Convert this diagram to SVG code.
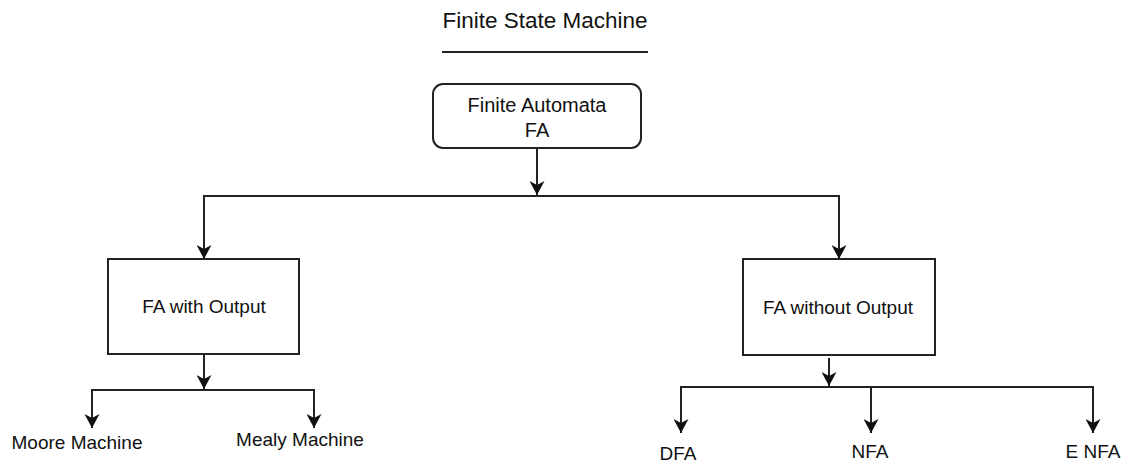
<svg xmlns="http://www.w3.org/2000/svg" width="1123" height="462" viewBox="0 0 1123 462">
<style>
text{font-family:"Liberation Sans",Arial,sans-serif;fill:#111;text-anchor:middle}
.box{fill:#fff;stroke:#222;stroke-width:2}
.edge{fill:none;stroke:#222;stroke-width:2}
</style>
<defs>
<marker id="arr" markerUnits="userSpaceOnUse" markerWidth="14" markerHeight="15" viewBox="0 0 14 15" refX="14" refY="7.5" orient="auto">
<path d="M0,0 L14,7.5 L0,15 L4,7.5 z" fill="#111"/>
</marker>
</defs>
<rect width="1123" height="462" fill="#fff"/>
<g id="title">
<text x="545" y="28" font-size="22.5">Finite State Machine</text>
<line x1="442" y1="52" x2="648" y2="52" stroke="#222" stroke-width="2"/>
</g>
<g id="fa">
<rect class="box" x="433" y="84" width="208" height="64" rx="10"/>
<text x="537" y="112" font-size="20">Finite Automata</text>
<text x="537" y="137" font-size="20">FA</text>
</g>
<g id="fa-with-output">
<rect class="box" x="108" y="259" width="191" height="95"/>
<text x="204" y="313" font-size="19">FA with Output</text>
</g>
<g id="fa-without-output">
<rect class="box" x="743" y="259" width="192" height="96"/>
<text x="838" y="314" font-size="19">FA without Output</text>
</g>
<g id="moore"><text x="77" y="449" font-size="19">Moore Machine</text></g>
<g id="mealy"><text x="300" y="446" font-size="19">Mealy Machine</text></g>
<g id="dfa"><text x="678" y="460" font-size="19">DFA</text></g>
<g id="nfa"><text x="870" y="458" font-size="19">NFA</text></g>
<g id="enfa"><text x="1093" y="458" font-size="19">E NFA</text></g>
<g id="connectors">
<path class="edge" d="M537,148 V195" marker-end="url(#arr)"/>
<path class="edge" d="M537,196 H204 V259" marker-end="url(#arr)"/>
<path class="edge" d="M537,196 H839 V259" marker-end="url(#arr)"/>
<path class="edge" d="M204,354 V389" marker-end="url(#arr)"/>
<path class="edge" d="M204,390 H92 V428" marker-end="url(#arr)"/>
<path class="edge" d="M204,390 H314 V428" marker-end="url(#arr)"/>
<path class="edge" d="M829,358 V386" marker-end="url(#arr)"/>
<path class="edge" d="M829,387 H681 V433" marker-end="url(#arr)"/>
<path class="edge" d="M829,387 H871 V433" marker-end="url(#arr)"/>
<path class="edge" d="M829,387 H1093 V433" marker-end="url(#arr)"/>
</g>
</svg>
